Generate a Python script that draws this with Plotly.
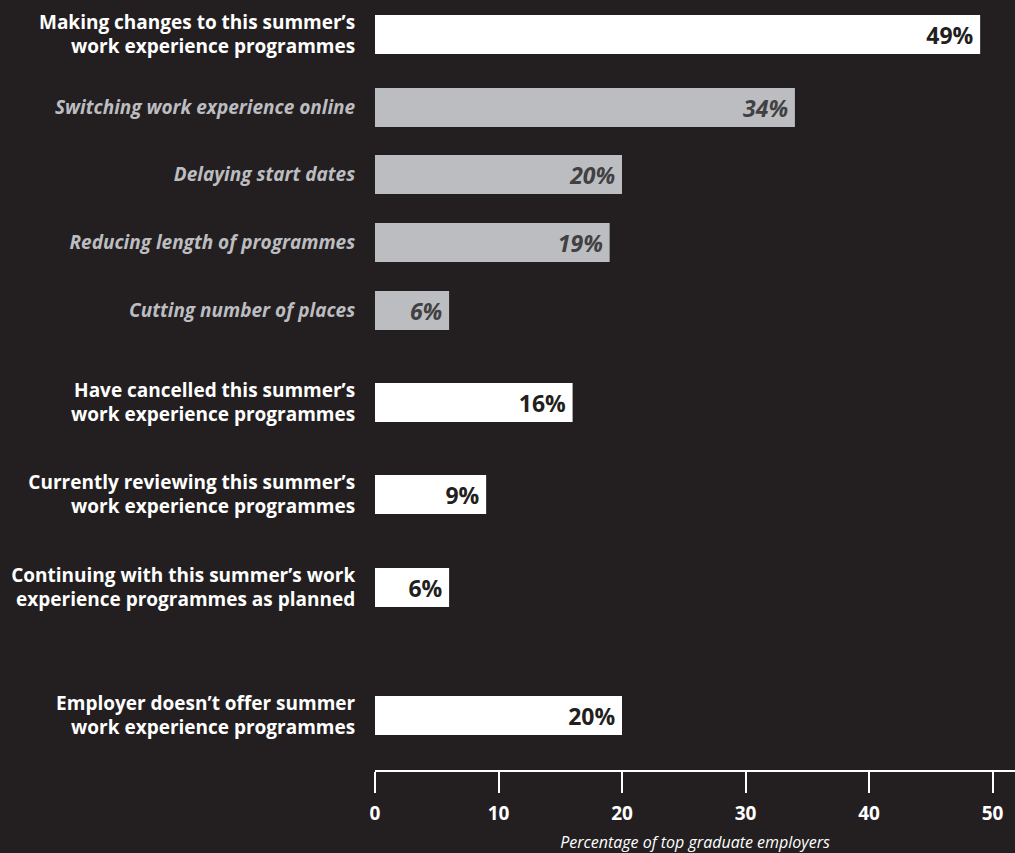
import plotly.graph_objects as go

# Survey categories, top to bottom
categories = [
    "Making changes to this summer’s<br>work experience programmes",
    "Switching work experience online",
    "Delaying start dates",
    "Reducing length of programmes",
    "Cutting number of places",
    "Have cancelled this summer’s<br>work experience programmes",
    "Currently reviewing this summer’s<br>work experience programmes",
    "Continuing with this summer’s work<br>experience programmes as planned",
    "Employer doesn’t offer summer<br>work experience programmes",
]
# Percentage of top graduate employers
values = [49, 34, 20, 19, 6, 16, 9, 6, 20]
# True for the breakdown rows under "Making changes..."
is_sub = [False, True, True, True, True, False, False, False, False]

x_ticks = [0, 10, 20, 30, 40, 50]

# Layout: vertical spacing between consecutive rows (plot units = px)
first_row = 34.5
row_gaps = [73, 67, 68, 68, 92, 92, 93, 128]
bar_thickness = 39
plot_bottom = 770

BG = "#231f20"
WHITE = "#ffffff"
GREY = "#bcbdc0"
DARK = "#231f20"
DARK_GREY = "#414042"
FONT = "Open Sans"

row_pos = [first_row]
for g in row_gaps:
    row_pos.append(row_pos[-1] + g)

bar_colors = [GREY if s else WHITE for s in is_sub]
text_colors = [DARK_GREY if s else DARK for s in is_sub]
bar_text = [
    (f"<b><i>{v}%</i></b>" if s else f"<b>{v}%</b>") + "\u2009"
    for v, s in zip(values, is_sub)
]
tick_text = [
    f"<b><i><span style='color:{GREY}'>{c}</span></i></b>" if s else f"<b>{c}</b>"
    for c, s in zip(categories, is_sub)
]

fig = go.Figure(
    go.Bar(
        x=values,
        y=row_pos,
        orientation="h",
        width=bar_thickness,
        marker=dict(color=bar_colors, line=dict(width=0)),
        text=bar_text,
        textposition="inside",
        insidetextanchor="end",
        textangle=0,
        insidetextfont=dict(family=FONT, size=23, color=text_colors),
        hoverinfo="skip",
    )
)

fig.update_layout(
    width=1015,
    height=853,
    paper_bgcolor=BG,
    plot_bgcolor=BG,
    margin=dict(l=375, r=0, t=0, b=853 - plot_bottom),
    showlegend=False,
    font=dict(family=FONT, color=WHITE),
    uniformtext=dict(minsize=23, mode="show"),
    xaxis=dict(
        range=[0, 640 / 12.35],
        tickvals=x_ticks,
        ticktext=[f"<b>{t}</b>" for t in x_ticks],
        showgrid=False,
        zeroline=False,
        showline=True,
        linecolor=WHITE,
        linewidth=2,
        ticks="outside",
        ticklen=21,
        tickwidth=2,
        tickcolor=WHITE,
        ticklabelstandoff=4,
        tickfont=dict(family=FONT, size=19, color=WHITE),
        title=dict(
            text="<i>Percentage of top graduate employers</i>",
            font=dict(family=FONT, size=16, color=WHITE),
            standoff=23,
        ),
        automargin=False,
        fixedrange=True,
    ),
    yaxis=dict(
        range=[plot_bottom, 0],
        tickvals=row_pos,
        ticktext=tick_text,
        showgrid=False,
        zeroline=False,
        showline=False,
        ticks="outside",
        ticklen=15,
        tickcolor=BG,
        tickfont=dict(family=FONT, size=19, color=WHITE),
        automargin=False,
        fixedrange=True,
    ),
)

fig.write_html("out.html")
